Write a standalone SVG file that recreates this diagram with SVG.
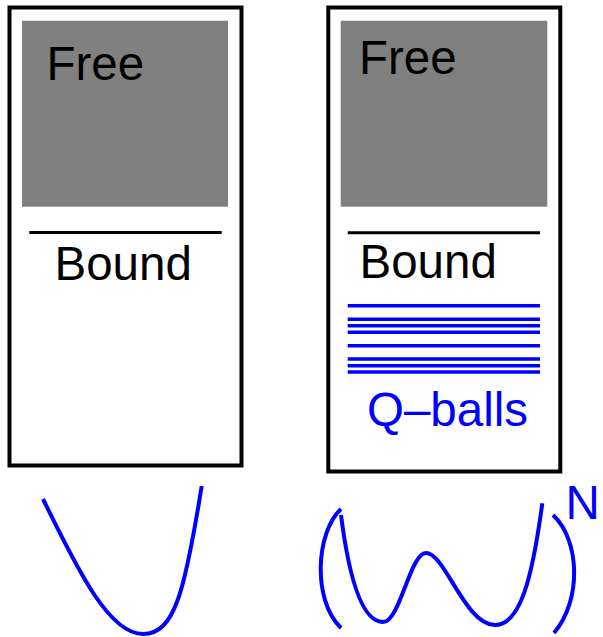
<svg xmlns="http://www.w3.org/2000/svg" width="603" height="637" viewBox="0 0 603 637">
  <style>
    .frame { fill: #ffffff; stroke: #000000; stroke-width: 4; }
    .free { fill: #808080; stroke: none; }
    .sep { stroke: #000000; stroke-width: 3; }
    .lbl { font-family: "Liberation Sans", Arial, sans-serif; font-size: 47.5px; fill: #000000; }
    .blue { font-family: "Liberation Sans", Arial, sans-serif; font-size: 47.5px; fill: #0000ff; }
    .level { stroke: #0000ff; stroke-width: 3.5; }
    .curve { fill: none; stroke: #0000ff; stroke-width: 4; }
  </style>
  <rect width="603" height="637" fill="#ffffff"/>

  <!-- single-well spectrum -->
  <g id="left-box">
    <rect class="frame" x="9.5" y="7.5" width="232" height="458"/>
    <rect class="free" x="22" y="20.7" width="206" height="186"/>
    <text class="lbl" x="46.5" y="80">Free</text>
    <line class="sep" x1="29.3" y1="232.5" x2="221.7" y2="232.5"/>
    <text class="lbl" x="54.5" y="280">Bound</text>
  </g>

  <!-- multi-well spectrum with Q-ball levels -->
  <g id="right-box">
    <rect class="frame" x="328.3" y="7.5" width="232" height="464"/>
    <rect class="free" x="340.7" y="20.7" width="206.6" height="186"/>
    <text class="lbl" x="359" y="74">Free</text>
    <line class="sep" x1="347.7" y1="232.7" x2="540" y2="232.7"/>
    <text class="lbl" x="359.5" y="278">Bound</text>
    <g id="qball-levels">
      <line class="level" x1="347.7" y1="305.7" x2="540" y2="305.7"/>
      <line class="level" x1="347.7" y1="319.3" x2="540" y2="319.3"/>
      <line class="level" x1="347.7" y1="325.7" x2="540" y2="325.7"/>
      <line class="level" x1="347.7" y1="332.3" x2="540" y2="332.3"/>
      <line class="level" x1="347.7" y1="345.7" x2="540" y2="345.7"/>
      <line class="level" x1="347.7" y1="359" x2="540" y2="359"/>
      <line class="level" x1="347.7" y1="365.7" x2="540" y2="365.7"/>
      <line class="level" x1="347.7" y1="372" x2="540" y2="372"/>
    </g>
    <text class="blue" x="367" y="426">Q–balls</text>
  </g>

  <!-- potentials -->
  <g id="single-well">
    <path class="curve" d="M43,499 C80,575 110,634 143,634 C175,634 185,590 201.7,486"/>
  </g>
  <g id="double-well">
    <path class="curve" d="M341,509 C316,532 312,600 341,628"/>
    <path class="curve" d="M341,515 C348,570 360,622 383,622 C400,622 410,553 426,553 C445,553 465,625 495,625 C520,625 532,580 542.3,503.3"/>
    <path class="curve" d="M553,515 C580,540 582,600 554,633"/>
    <text class="blue" x="565.5" y="519">N</text>
  </g>
</svg>
